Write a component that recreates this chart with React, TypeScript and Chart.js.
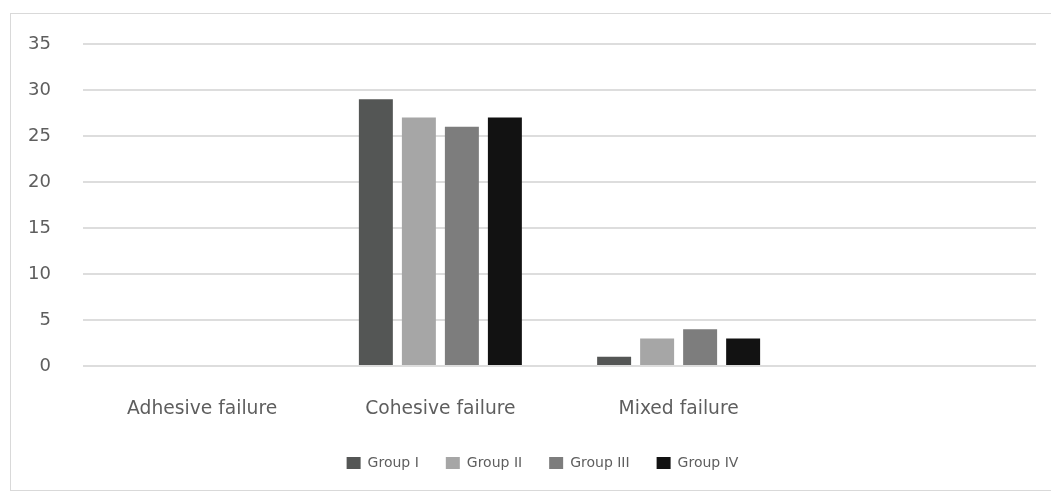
import React, { useEffect, useRef } from "react";
import { Chart, registerables } from "chart.js";

Chart.register(...registerables);

// Failure modes along the x axis (the fourth slot is left empty)
const categories = ["Adhesive failure", "Cohesive failure", "Mixed failure", ""];

// Number of specimens per failure mode for each group
const groupI = [0, 29, 1, null];
const groupII = [0, 27, 3, null];
const groupIII = [0, 26, 4, null];
const groupIV = [0, 27, 3, null];

const groupNames = ["Group I", "Group II", "Group III", "Group IV"];
const groupColors = ["#545655", "#a6a6a6", "#7d7d7d", "#121212"];

const yTicks = [0, 5, 10, 15, 20, 25, 30, 35];

const CANVAS_W = 1040;
const CANVAS_H = 476;
const TEXT = "#5e5e5e";
const FONT = "'DejaVu Sans', 'Liberation Sans', sans-serif";

// Nudge the legend row a little to the right of the canvas centre
const legendOffset = {
  id: "legendOffset",
  afterLayout(chart: any, _args: any, opts: any) {
    const legend = chart.legend;
    if (!legend) return;
    const shift = (opts && opts.dx) || 0;
    legend.left += shift;
    legend.right += shift;
  },
};

export default function App() {
  const canvasRef = useRef<HTMLCanvasElement | null>(null);

  useEffect(() => {
    const canvas = canvasRef.current;
    if (!canvas) return;
    const series = [groupI, groupII, groupIII, groupIV];
    const chart = new Chart(canvas, {
      type: "bar",
      data: {
        labels: categories,
        datasets: series.map((values, i) => ({
          label: groupNames[i],
          data: values,
          backgroundColor: groupColors[i],
          borderWidth: 0,
          categoryPercentage: 0.722,
          barPercentage: 0.79,
        })),
      },
      plugins: [legendOffset],
      options: {
        responsive: false,
        animation: false,
        layout: { padding: { top: 30, right: 15, bottom: 10, left: 0 } },
        plugins: {
          tooltip: { enabled: false },
          legendOffset: { dx: 19 },
          legend: {
            position: "bottom",
            labels: {
              boxWidth: 14,
              boxHeight: 12,
              padding: 27,
              color: TEXT,
              font: { family: FONT, size: 14 },
            },
          },
        } as any,
        scales: {
          x: {
            grid: { display: false },
            border: { display: false },
            ticks: {
              color: TEXT,
              padding: 24,
              font: { family: FONT, size: 18.7 },
              maxRotation: 0,
            },
            afterFit: (axis: any) => {
              axis.height = 63;
            },
          },
          y: {
            min: yTicks[0],
            max: yTicks[yTicks.length - 1],
            afterBuildTicks: (axis: any) => {
              axis.ticks = yTicks.map((v) => ({ value: v }));
            },
            grid: { color: "#dddddd", lineWidth: 2, drawTicks: false },
            border: { display: false },
            ticks: {
              color: TEXT,
              padding: 32,
              font: { family: FONT, size: 18 },
            },
            afterFit: (axis: any) => {
              // fixed axis strip; keep the label padding from pushing the plot down
              axis.width = 72;
              axis.paddingTop = 10;
              axis.paddingBottom = 10;
            },
          },
        },
      },
    });
    return () => chart.destroy();
  }, []);

  return (
    <div
      style={{
        position: "absolute",
        left: 10,
        top: 13,
        width: 1041,
        height: 478,
        boxSizing: "border-box",
        borderTop: "1px solid #d9d9d9",
        borderLeft: "1px solid #d9d9d9",
        borderBottom: "1px solid #d9d9d9",
        background: "#fff",
      }}
    >
      <canvas ref={canvasRef} width={CANVAS_W} height={CANVAS_H} style={{ display: "block" }} />
    </div>
  );
}
